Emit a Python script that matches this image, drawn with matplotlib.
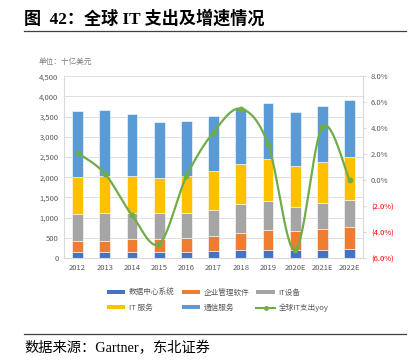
import matplotlib
matplotlib.use("Agg")
import matplotlib.pyplot as plt
import numpy as np
from matplotlib.lines import Line2D
from matplotlib.patches import Patch
from matplotlib.ticker import FuncFormatter, MultipleLocator

plt.rcParams['font.family'] = ['Noto Sans CJK SC', 'DejaVu Sans']

years = ["2012", "2013", "2014", "2015", "2016", "2017", "2018", "2019", "2020E", "2021E", "2022E"]
data_center = [141, 140, 150, 150, 150, 180, 195, 200, 200, 200, 230]
software = [280, 280, 320, 320, 355, 365, 420, 505, 480, 530, 535]
devices = [670, 695, 645, 640, 610, 645, 720, 700, 595, 625, 660]
it_services = [910, 925, 910, 865, 910, 960, 1000, 1040, 1000, 1030, 1080]
telecom = [1635, 1620, 1530, 1395, 1370, 1360, 1380, 1380, 1330, 1370, 1410]
yoy = [2.1, 0.5, -2.7, -4.9, 0.3, 3.7, 5.5, 2.8, -5.4, 4.1, 0.0]

series_names = ["数据中心系统", "企业管理软件", "IT设备", "IT 服务", "通信服务"]
colors = ["#4472C4", "#ED7D31", "#A5A5A5", "#FFC000", "#5B9BD5"]
line_color = "#70AD47"
tick_color = "#595959"

fig = plt.figure(figsize=(4.16, 3.61), dpi=100)
ax = fig.add_axes([0.154, 0.285, 0.719, 0.504])
x = np.arange(len(years))
bottom = np.zeros(len(years))
for vals, c in zip([data_center, software, devices, it_services, telecom], colors):
    ax.bar(x, vals, width=0.4, bottom=bottom, color=c, edgecolor="white", linewidth=0.4, zorder=2)
    bottom += np.array(vals)

ax.set_xlim(-0.5, len(years) - 0.5)
ax.set_ylim(0, 4500)
ax.yaxis.set_major_locator(MultipleLocator(500))
ax.yaxis.set_major_formatter(FuncFormatter(lambda v, p: f"{int(v):,}"))
ax.set_xticks(x)
ax.set_xticklabels(years)
ax.grid(axis="y", color="#D9D9D9", linewidth=0.6, zorder=0)
for s in ["top", "right"]:
    ax.spines[s].set_visible(False)
ax.spines["left"].set_color("#D9D9D9")
ax.spines["bottom"].set_color("#D9D9D9")
ax.tick_params(axis="both", labelsize=5.5, colors=tick_color, length=0, pad=4)

ax2 = ax.twinx()
ax2.set_ylim(-6, 8)
ax2.yaxis.set_major_locator(MultipleLocator(2))
def pct(v, p):
    if v < -1e-9:
        return f"({abs(v):.1f}%)"
    return f"{abs(v):.1f}%"
ax2.yaxis.set_major_formatter(FuncFormatter(pct))
ax2.tick_params(axis="y", labelsize=5.5, colors="#D9D9D9", length=2.5, pad=3)
for s in ["top", "left", "bottom"]:
    ax2.spines[s].set_visible(False)
ax2.spines["right"].set_color("#D9D9D9")
fig.canvas.draw()
for lbl in ax2.get_yticklabels():
    txt = lbl.get_text()
    lbl.set_color("#FF0000" if txt.startswith("(") else tick_color)

# smooth (Bezier) curve through yoy points, like Excel smoothing
P = np.column_stack([x, yoy]).astype(float)
n = len(P)
curve = []
for i in range(n - 1):
    p0 = P[i - 1] if i > 0 else P[i]
    p1 = P[i]
    p2 = P[i + 1]
    p3 = P[i + 2] if i + 2 < n else P[i + 1]
    c1 = p1 + (p2 - p0) / 6
    c2 = p2 - (p3 - p1) / 6
    t = np.linspace(0, 1, 30)[:, None]
    seg = (1 - t) ** 3 * p1 + 3 * (1 - t) ** 2 * t * c1 + 3 * (1 - t) * t ** 2 * c2 + t ** 3 * p2
    curve.append(seg)
curve = np.vstack(curve)
ax2.plot(curve[:, 0], curve[:, 1], color=line_color, linewidth=1.6, zorder=5)
ax2.plot(x, yoy, linestyle="none", marker="o", markersize=3.2, color=line_color, zorder=6)

handles = [
    Patch(facecolor=colors[0]),
    Patch(facecolor=colors[3]),
    Patch(facecolor=colors[1]),
    Patch(facecolor=colors[4]),
    Patch(facecolor=colors[2]),
    Line2D([], [], color=line_color, linewidth=1.5, marker="o", markersize=2.5),
]
labels = [series_names[0], series_names[3], series_names[1], series_names[4], series_names[2], "全球IT支出yoy"]
fig.legend(handles, labels, loc="upper left", bbox_to_anchor=(0.257, 0.2), ncol=3, frameon=False,
           fontsize=5.5, labelcolor=tick_color, handlelength=2.4, handleheight=0.45, handletextpad=0.5,
           columnspacing=0.9, labelspacing=0.9, borderpad=0, borderaxespad=0)

fig.text(0.058, 0.948, "图  42：全球 IT 支出及增速情况", fontsize=12.3, fontweight="bold",
         family=["Liberation Serif", "Noto Sans CJK SC"], va="center", ha="left", color="#000000")
fig.add_artist(Line2D([0.058, 0.976], [0.914, 0.914], color="#404040", linewidth=0.9))
fig.text(0.092, 0.828, "单位：十亿美元", fontsize=5.5, color="#7F7F7F", va="center", ha="left")
fig.add_artist(Line2D([0.058, 0.976], [0.074, 0.074], color="#404040", linewidth=0.9))
fig.text(0.058, 0.037, "数据来源：Gartner，东北证券", fontsize=10.3,
         family=["Liberation Serif", "Noto Sans CJK SC"], va="center", ha="left", color="#000000")

fig.savefig("out.png", dpi=100)
